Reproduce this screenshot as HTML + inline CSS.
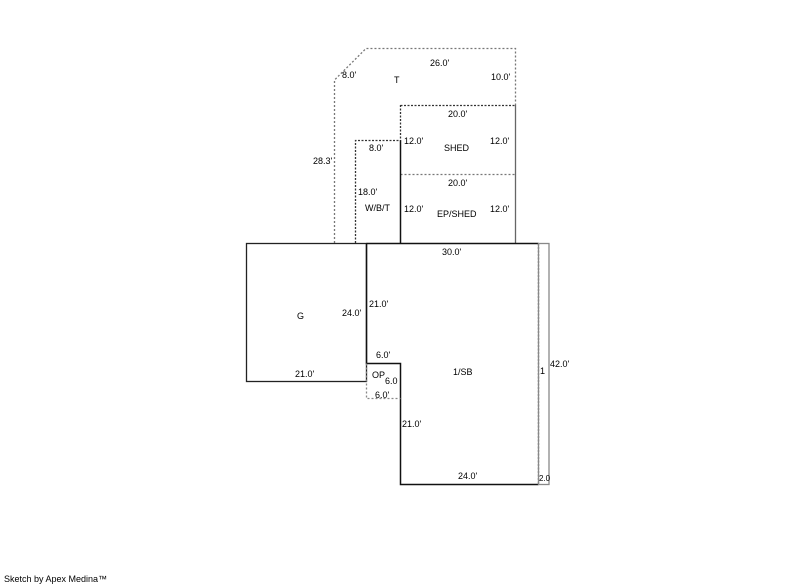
<!DOCTYPE html>
<html><head><meta charset="utf-8"><style>
html,body{margin:0;padding:0;background:#fff;}
svg{display:block;}
text{font-family:"Liberation Sans",sans-serif;font-size:9px;fill:#000;}
</style></head><body>
<svg width="800" height="587" viewBox="0 0 800 587" xmlns="http://www.w3.org/2000/svg">
<g fill="none" stroke-width="1.3">
<!-- T outline -->
<path d="M334.5,243 V80 L366,48.5 H515.5 V105" stroke="#777" stroke-dasharray="2,2"/>
<!-- SHED -->
<path d="M400.5,105.5 H515.5" stroke="#333" stroke-dasharray="2,1.5"/>
<path d="M515.5,105 V243" stroke="#666"/>
<path d="M400.5,174.5 H515.5" stroke="#777" stroke-dasharray="2,2"/>
<path d="M400.5,140 V243" stroke="#111" stroke-width="1.5"/>
<path d="M400.5,105 V140" stroke="#333" stroke-dasharray="2,1.5"/>
<!-- WB/T -->
<path d="M355.5,243 V140.5 H400.5" stroke="#333" stroke-dasharray="2,1.5"/>
<!-- G -->
<rect x="246.5" y="243.5" width="120" height="138" stroke="#222"/>
<!-- 1/SB -->
<path d="M366.5,243.5 H538.5" stroke="#111" stroke-width="1.5"/>
<path d="M366.5,243.5 V363.5 H400.5 V484.5 H538.5" stroke="#111" stroke-width="1.5"/>
<path d="M538.5,243.5 V484" stroke="#333" stroke-dasharray="2,1.5"/>
<rect x="538.5" y="243.5" width="10.5" height="241" stroke="#888"/>
<!-- OP -->
<path d="M366.5,363.5 V398.5 H400.5" stroke="#888" stroke-dasharray="2,2"/>
</g>
<text x="430" y="66">26.0'</text>
<text x="342" y="78">8.0'</text>
<text x="394" y="83">T</text>
<text x="491" y="80">10.0'</text>
<text x="448" y="117">20.0'</text>
<text x="313" y="164">28.3'</text>
<text x="369" y="151">8.0'</text>
<text x="404" y="144">12.0'</text>
<text x="444" y="151">SHED</text>
<text x="490" y="144">12.0'</text>
<text x="448" y="186">20.0'</text>
<text x="358" y="195">18.0'</text>
<text x="365" y="211">W/B/T</text>
<text x="404" y="212">12.0'</text>
<text x="437" y="217">EP/SHED</text>
<text x="490" y="212">12.0'</text>
<text x="442" y="255">30.0'</text>
<text x="297" y="319">G</text>
<text x="342" y="316">24.0'</text>
<text x="369" y="307">21.0'</text>
<text x="376" y="358">6.0'</text>
<text x="295" y="377">21.0'</text>
<text x="372" y="378">OP</text>
<text x="385" y="384">6.0</text>
<text x="453" y="375">1/SB</text>
<text x="540" y="374">1</text>
<text x="550" y="367">42.0'</text>
<text x="375" y="398">6.0'</text>
<text x="402" y="427">21.0'</text>
<text x="458" y="479">24.0'</text>
<text x="539" y="481" style="font-size:8px">2.0</text>
<text x="4" y="582">Sketch by Apex Medina™</text>
</svg>
</body></html>
